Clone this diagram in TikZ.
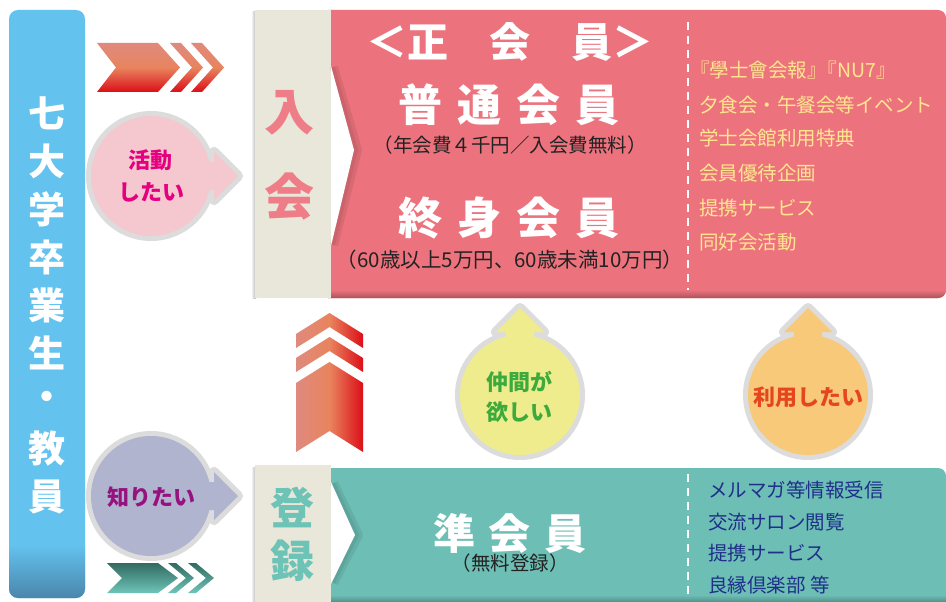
\documentclass[tikz,border=0pt]{standalone}
\usepackage{fontspec}
\setmainfont{Noto Sans CJK JP}
\definecolor{barblue}{HTML}{63C2EE}
\definecolor{bardark}{HTML}{4A86AC}
\definecolor{pinkbox}{HTML}{EC737D}
\definecolor{tealbox}{HTML}{6DBFB5}
\definecolor{beige}{HTML}{E9E6DA}
\definecolor{tabpink}{HTML}{EF7D87}
\definecolor{tabteal}{HTML}{6CC3B6}
\definecolor{listyellow}{HTML}{FFE68E}
\definecolor{listnavy}{HTML}{1F2F8A}
\definecolor{subdark}{HTML}{222222}
\definecolor{bubgray}{HTML}{DCDCDC}
\definecolor{bubpink}{HTML}{F5C8CF}
\definecolor{bublav}{HTML}{B1B4CE}
\definecolor{bubyellow}{HTML}{EEEC8C}
\definecolor{buborange}{HTML}{F9C97A}
\definecolor{txmagenta}{HTML}{E4007F}
\definecolor{txpurple}{HTML}{95127F}
\definecolor{txgreen}{HTML}{3CAA3C}
\definecolor{txorange}{HTML}{E5461E}
\definecolor{chevA}{HTML}{DF8A7E}
\definecolor{chevB}{HTML}{E8845E}
\definecolor{chevC}{HTML}{DC0E18}
\definecolor{tchevA}{HTML}{336A61}
\definecolor{tchevB}{HTML}{4F978C}
\definecolor{tchevC}{HTML}{6EC5B9}
\tikzset{
  bubline/.style={draw=bubgray, line width=10pt, line join=round},
  bartxt/.style={text=white, inner sep=0pt, font=\fontsize{37}{37}\selectfont\bfseries},
  tabtxtA/.style={text=tabpink, inner sep=0pt, font=\fontsize{50}{50}\selectfont\bfseries},
  tabtxtB/.style={text=tabteal, inner sep=0pt, font=\fontsize{44}{44}\selectfont\bfseries},
  headtxt/.style={text=white, inner sep=0pt, font=\fontsize{41}{41}\selectfont\bfseries},
  bigtxt/.style={text=white, inner sep=0pt, font=\fontsize{44}{44}\selectfont\bfseries},
  midtxt/.style={text=white, inner sep=0pt, font=\fontsize{42}{42}\selectfont\bfseries},
  subtxt/.style={text=subdark, inner sep=0pt, font=\fontsize{19.5}{19.5}\selectfont},
  subtxtB/.style={text=subdark, inner sep=0pt, font=\fontsize{20.5}{20.5}\selectfont},
  listA/.style={text=listyellow, inner sep=0pt, anchor=west, font=\fontsize{19.5}{19.5}\selectfont},
  listB/.style={text=listnavy, inner sep=0pt, anchor=west, font=\fontsize{19.5}{19.5}\selectfont},
  bubtxt/.style={inner sep=0pt, font=\fontsize{22}{22}\selectfont\bfseries},
  redchev/.style={top color=chevA, bottom color=chevC, middle color=chevB},
  upchev/.style={left color=chevA, right color=chevC, middle color=chevB},
  tealchev/.style={top color=tchevA, bottom color=tchevC, middle color=tchevB},
  dashline/.style={white, line width=2.5pt, dash pattern=on 8pt off 6pt}
}
\newcommand\bubR[2]{%
  \begin{scope}[shift={#1}]
    \draw[bubline] (0,0) circle (60pt);
    \draw[bubline] (45,-14) -- (63,-14) -- (63,-24) -- (87,0) -- (63,24) -- (63,14) -- (45,14) -- cycle;
    \fill[#2] (0,0) circle (60pt);
    \fill[#2] (45,-14) -- (63,-14) -- (63,-24) -- (87,0) -- (63,24) -- (63,14) -- (45,14) -- cycle;
  \end{scope}}
\newcommand\bubU[2]{%
  \begin{scope}[shift={#1}]
    \draw[bubline] (0,0) circle (60pt);
    \draw[bubline] (-14,-45) -- (-14,-63) -- (-24,-63) -- (0,-87) -- (24,-63) -- (14,-63) -- (14,-45) -- cycle;
    \fill[#2] (0,0) circle (60pt);
    \fill[#2] (-14,-45) -- (-14,-63) -- (-24,-63) -- (0,-87) -- (24,-63) -- (14,-63) -- (14,-45) -- cycle;
  \end{scope}}
\begin{document}
\begin{tikzpicture}[x=1pt, y=-1pt]
\useasboundingbox (0,0) rectangle (946,602);
\fill[white] (0,0) rectangle (946,602);
\begin{scope}
\clip (0,0) rectangle (946,602);
% blue bar
\fill[barblue, rounded corners=9pt] (9,10) rectangle (85,598);
\begin{scope}
  \clip[rounded corners=9pt] (9,10) rectangle (85,598);
  \shade[top color=barblue, bottom color=bardark] (9,545) rectangle (85,598);
\end{scope}
\foreach \ch [count=\i from 0] in {七,大,学,卒,業,生,・,教,員}
  \node[bartxt] (bar\i) at (47,{113+48*\i}) {\ch};
% pink box
\fill[pinkbox, rounded corners=8pt] (320,10) rectangle (946,298);
\begin{scope}
  \clip[rounded corners=8pt] (320,10) rectangle (946,298);
  \shade[top color=pinkbox, bottom color=pinkbox!72!black] (320,290) rectangle (946,298);
\end{scope}
% teal box
\fill[tealbox, rounded corners=8pt] (320,468) rectangle (946,620);
\shade[top color=tealbox, bottom color=tealbox!75!black] (320,595) rectangle (946,602);
% tabs
\shade[left color=white, right color=black!30] (251,12) rectangle (256,298);
\fill[beige] (255,10) rectangle (331,298);
\shade[left color=white, right color=black!30] (251,467) rectangle (256,602);
\fill[beige] (255,465) rectangle (331,602);
% notches
\draw[pinkbox!65!black, opacity=0.22, line width=8pt, line join=round] (334,67) -- (358,150) -- (334,245);
\draw[pinkbox!65!black, opacity=0.22, line width=4pt, line join=round] (333,67) -- (356,150) -- (333,245);
\fill[white] (331,66) -- (354,150) -- (331,246) -- cycle;
\draw[tealbox!65!black, opacity=0.22, line width=8pt, line join=round] (334,483) -- (359,535) -- (334,583);
\draw[tealbox!65!black, opacity=0.22, line width=4pt, line join=round] (333,483) -- (357,535) -- (333,583);
\fill[white] (331,482) -- (355,535) -- (331,584) -- cycle;
% tab texts
\node[tabtxtA] (tabIn) at (289,113) {入};
\node[tabtxtA] (tabKai) at (289,197) {会};
\node[tabtxtB] (tabTo) at (292,507) {登};
\node[tabtxtB] (tabRoku) at (292,561) {録};
% pink box texts
\node[headtxt] (seikai) at (510,42) {＜正　会　員＞};
\node[bigtxt] (futsu) at (509,105) {普\hspace{15pt}通\hspace{15pt}会\hspace{15pt}員};
\node[subtxt] (futsusub) at (510,145) {（年会費４千円／入会費無料）};
\node[bigtxt] (shushin) at (509,218) {終\hspace{15pt}身\hspace{15pt}会\hspace{15pt}員};
\node[subtxtB] (shushinsub) at (510,260) {（60歳以上5万円、60歳未満10万円）};
\draw[dashline] (688,22) -- (688,290);
\node[listA] (la1) at (690,70) {『學士會会報』\hspace{-9pt}『NU7』};
\node[listA] (la2) at (699,105) {夕食会・午餐会等イベント};
\node[listA] (la3) at (699,138) {学士会館利用特典};
\node[listA] (la4) at (699,173) {会員優待企画};
\node[listA] (la5) at (699,208) {提携サービス};
\node[listA] (la6) at (699,242) {同好会活動};
% teal box texts
\node[midtxt] (jun) at (510,533) {準\hspace{14pt}会\hspace{14pt}員};
\node[subtxt] (junsub) at (510,563) {（無料登録）};
\draw[dashline] (688,474) -- (688,598);
\node[listB] (lb1) at (708,490) {メルマガ等情報受信};
\node[listB] (lb2) at (708,522) {交流サロン閲覧};
\node[listB] (lb3) at (708,553) {提携サービス};
\node[listB] (lb4) at (708,585) {良縁倶楽部 等};
% red chevrons (top)
\shade[redchev] (97,43) -- (158,43) -- (180,67.5) -- (158,92) -- (97,92) -- (116,67.5) -- cycle;
\shade[redchev] (170,43) -- (181,43) -- (203,67.5) -- (181,92) -- (170,92) -- (192,67.5) -- cycle;
\shade[redchev] (191,43) -- (202,43) -- (224,67.5) -- (202,92) -- (191,92) -- (213,67.5) -- cycle;
% teal chevrons (bottom)
\shade[tealchev] (107,563) -- (158,563) -- (178,578) -- (158,593) -- (107,593) -- (122,578) -- cycle;
\shade[tealchev] (168,563) -- (176,563) -- (194,578) -- (176,593) -- (168,593) -- (186,578) -- cycle;
\shade[tealchev] (188,563) -- (196,563) -- (214,578) -- (196,593) -- (188,593) -- (206,578) -- cycle;
% up chevrons
\shade[upchev] (329.5,313) -- (363,334) -- (363,348) -- (329.5,327) -- (296,348) -- (296,334) -- cycle;
\shade[upchev] (329.5,337) -- (363,358) -- (363,372) -- (329.5,351) -- (296,372) -- (296,358) -- cycle;
\shade[upchev] (329.5,362) -- (363,383) -- (363,452) -- (329.5,431) -- (296,452) -- (296,383) -- cycle;
% bubbles
\bubR{(151,176)}{bubpink}
\node[bubtxt, text=txmagenta] (katsu1) at (150,160) {活動};
\node[bubtxt, text=txmagenta] (katsu2) at (151,192) {したい};
\bubR{(151,496)}{bublav}
\node[bubtxt, text=txpurple] (shiri) at (151,497) {知りたい};
\bubU{(520,395)}{bubyellow}
\node[bubtxt, text=txgreen] (naka1) at (519,382) {仲間が};
\node[bubtxt, text=txgreen] (naka2) at (519,412) {欲しい};
\bubU{(808,395)}{buborange}
\node[bubtxt, text=txorange] (riyou) at (808,397) {利用したい};
\end{scope}
\end{tikzpicture}
\end{document}
